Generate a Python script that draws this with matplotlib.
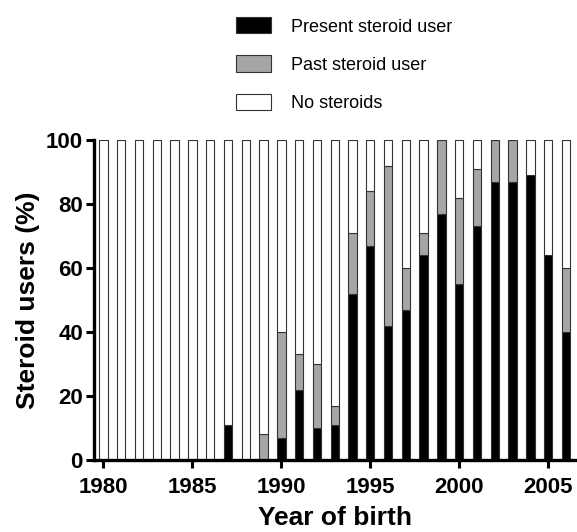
import matplotlib.pyplot as plt
from matplotlib.patches import Patch

plt.rcParams['font.family'] = ['Liberation Sans', 'DejaVu Sans']

years = list(range(1980, 2007))
present = [0, 0, 0, 0, 0, 0, 0, 11, 0, 0, 7, 22, 10, 11,
           52, 67, 42, 47, 64, 77, 55, 73, 87, 87, 89, 64, 40]
past = [0, 0, 0, 0, 0, 0, 0, 0, 0, 8, 33, 11, 20, 6,
        19, 17, 50, 13, 7, 23, 27, 18, 13, 13, 0, 0, 20]
none = [100 - a - b for a, b in zip(present, past)]

series = [
    ('Present steroid user', present, 'black'),
    ('Past steroid user', past, '#a6a6a6'),
    ('No steroids', none, 'white'),
]

fig = plt.figure(figsize=(5.77, 5.32), dpi=100)
ax = fig.add_axes([94 / 577, 72 / 532, 483 / 577, 320 / 532])

bottom = [0] * len(years)
for label, vals, color in series:
    ax.bar(years, vals, width=0.47, bottom=bottom, color=color,
           edgecolor='#333333', linewidth=0.8, label=label, zorder=2)
    bottom = [b + v for b, v in zip(bottom, vals)]

ax.set_xlim(1979.47, 2006.62)
ax.set_ylim(0, 100)
ax.set_xticks([1980, 1985, 1990, 1995, 2000, 2005])
ax.set_yticks([0, 20, 40, 60, 80, 100])

for side in ['top', 'right']:
    ax.spines[side].set_visible(False)
for side in ['left', 'bottom']:
    ax.spines[side].set_linewidth(2.4)
    ax.spines[side].set_zorder(3)

ax.tick_params(axis='both', length=6, width=2.2, labelsize=16)
ax.tick_params(axis='x', pad=6)
ax.tick_params(axis='y', pad=2)
for lbl in ax.get_xticklabels() + ax.get_yticklabels():
    lbl.set_fontweight('bold')

ax.set_xlabel('Year of birth', fontsize=19, fontweight='bold', labelpad=6)
ax.set_ylabel('Steroid users (%)', fontsize=19, fontweight='bold', labelpad=4)

handles = [Patch(facecolor=c, edgecolor='#333333', linewidth=0.8)
           for _, _, c in series]
labels = [s[0] for s in series]
fig.legend(handles, labels, loc='upper left',
           bbox_to_anchor=(220 / 577, 1 - 1 / 532), frameon=False,
           fontsize=13, handlelength=1.95, handleheight=1.0,
           handletextpad=1.1, labelspacing=1.1)

fig.savefig('out.png', dpi=100)
